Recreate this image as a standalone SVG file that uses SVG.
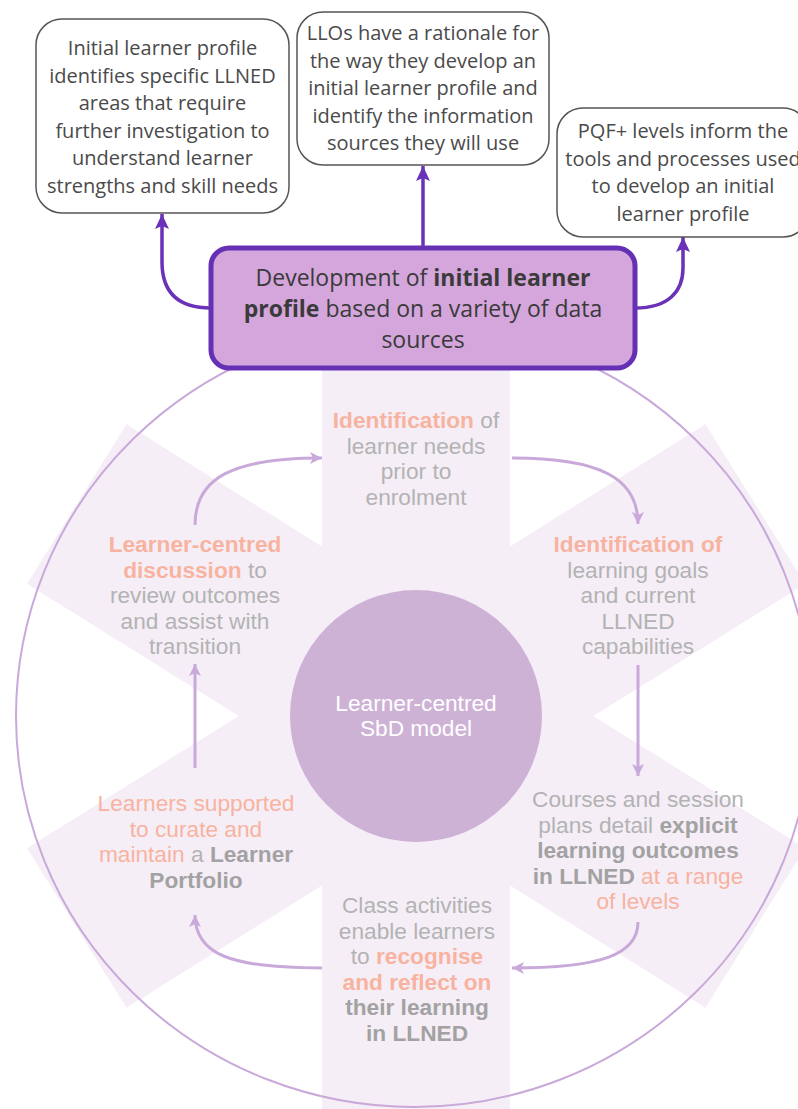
<svg xmlns="http://www.w3.org/2000/svg" width="798" height="1109" viewBox="0 0 798 1109">
  <defs>
    <style>
      .box { fill: #ffffff; stroke: #555555; stroke-width: 1.5; }
      .btxt { font-family: "Open Sans", "Liberation Sans", sans-serif; font-size: 20px; fill: #4a4a4a; text-anchor: middle; }
      .main { fill: #d4a6dc; stroke: #6630b5; stroke-width: 5; }
      .mtxt { font-family: "Open Sans", "Liberation Sans", sans-serif; font-size: 23px; fill: #3a3a3a; text-anchor: middle; }
      .b { font-weight: bold; }
      .link { fill: none; stroke: #6a32b8; stroke-width: 3.5; }
      .flow { fill: none; stroke: #c9a9da; stroke-width: 3; }
      .band { fill: #f5eef6; }
      .ctxt { font-family: "Liberation Sans", Arial, sans-serif; font-size: 22.7px; fill: #b3b3b3; text-anchor: middle; }
      .sal { fill: #f8b3a0; }
      .gb { fill: #a2a2a2; font-weight: bold; }
      .hub { font-family: "Liberation Sans", Arial, sans-serif; font-size: 22.7px; fill: #ffffff; text-anchor: middle; }
    </style>
    <marker id="headDark" markerUnits="userSpaceOnUse" markerWidth="18" markerHeight="18" refX="15" refY="9" orient="auto">
      <path d="M0,2 L15,9 L0,16 L3,9 z" fill="#6a32b8"/>
    </marker>
    <marker id="headLight" markerUnits="userSpaceOnUse" markerWidth="14" markerHeight="14" refX="12" refY="7" orient="auto">
      <path d="M0,1 L12,7 L0,13 L3,7 z" fill="#c9a9da"/>
    </marker>
  </defs>

  <!-- background asterisk bands -->
  <g id="bands">
    <rect class="band" x="322" y="316" width="188" height="800"/>
    <rect class="band" x="-400" y="-94" width="800" height="188" transform="translate(416,716) rotate(32)"/>
    <rect class="band" x="-400" y="-94" width="800" height="188" transform="translate(416,716) rotate(-32)"/>
  </g>

  <!-- outer ring -->
  <ellipse id="ring" cx="414" cy="716" rx="398" ry="391" fill="none" stroke="#c9a9da" stroke-width="2"/>

  <!-- hub -->
  <g id="hub">
    <circle cx="416" cy="716" r="126" fill="#ceb2d6"/>
    <text class="hub" x="416" y="711">Learner-centred</text>
    <text class="hub" x="416" y="736">SbD model</text>
  </g>

  <!-- cycle stages -->
  <g id="stage-enrolment">
    <text class="ctxt" x="416" y="428"><tspan class="sal b">Identification</tspan> of</text>
    <text class="ctxt" x="416" y="453.5">learner needs</text>
    <text class="ctxt" x="416" y="479">prior to</text>
    <text class="ctxt" x="416" y="504.5">enrolment</text>
  </g>
  <g id="stage-goals">
    <text class="ctxt" x="638" y="552"><tspan class="sal b">Identification of</tspan></text>
    <text class="ctxt" x="638" y="577.5">learning goals</text>
    <text class="ctxt" x="638" y="603">and current</text>
    <text class="ctxt" x="638" y="628.5">LLNED</text>
    <text class="ctxt" x="638" y="654">capabilities</text>
  </g>
  <g id="stage-outcomes">
    <text class="ctxt" x="638" y="807">Courses and session</text>
    <text class="ctxt" x="638" y="832.5">plans detail <tspan class="gb">explicit</tspan></text>
    <text class="ctxt" x="638" y="858"><tspan class="gb">learning outcomes</tspan></text>
    <text class="ctxt" x="638" y="883.5"><tspan class="gb">in LLNED</tspan> <tspan class="sal">at a range</tspan></text>
    <text class="ctxt" x="638" y="909"><tspan class="sal">of levels</tspan></text>
  </g>
  <g id="stage-reflect">
    <text class="ctxt" x="417" y="913">Class activities</text>
    <text class="ctxt" x="417" y="938.5">enable learners</text>
    <text class="ctxt" x="417" y="964">to <tspan class="sal b">recognise</tspan></text>
    <text class="ctxt" x="417" y="989.5"><tspan class="sal b">and reflect on</tspan></text>
    <text class="ctxt" x="417" y="1015"><tspan class="gb">their learning</tspan></text>
    <text class="ctxt" x="417" y="1040.5"><tspan class="gb">in LLNED</tspan></text>
  </g>
  <g id="stage-portfolio">
    <text class="ctxt" x="196" y="811"><tspan class="sal">Learners supported</tspan></text>
    <text class="ctxt" x="196" y="836.5"><tspan class="sal">to curate and</tspan></text>
    <text class="ctxt" x="196" y="862"><tspan class="sal">maintain</tspan> a <tspan class="gb">Learner</tspan></text>
    <text class="ctxt" x="196" y="887.5"><tspan class="gb">Portfolio</tspan></text>
  </g>
  <g id="stage-discussion">
    <text class="ctxt" x="195" y="552"><tspan class="sal b">Learner-centred</tspan></text>
    <text class="ctxt" x="195" y="577.5"><tspan class="sal b">discussion</tspan> to</text>
    <text class="ctxt" x="195" y="603">review outcomes</text>
    <text class="ctxt" x="195" y="628.5">and assist with</text>
    <text class="ctxt" x="195" y="654">transition</text>
  </g>

  <!-- cycle arrows -->
  <g id="cycle-connectors">
    <path class="flow" d="M195,525 C195,478 232,458 322,458" marker-end="url(#headLight)"/>
    <path class="flow" d="M512,458 C600,458 638,478 638,524" marker-end="url(#headLight)"/>
    <path class="flow" d="M638,665 L638,776" marker-end="url(#headLight)"/>
    <path class="flow" d="M638,922 C638,955 600,968 512,968" marker-end="url(#headLight)"/>
    <path class="flow" d="M322,968 C232,968 195,955 195,915" marker-end="url(#headLight)"/>
    <path class="flow" d="M195,768 L195,664" marker-end="url(#headLight)"/>
  </g>

  <!-- links from the profile box to the notes -->
  <g id="profile-connectors">
    <path class="link" d="M211,308 C178,308 162,292 162,262 L162,214" marker-end="url(#headDark)"/>
    <path class="link" d="M423,248 L423,166" marker-end="url(#headDark)"/>
    <path class="link" d="M635,308 C668,308 683,292 683,268 L683,237" marker-end="url(#headDark)"/>
  </g>

  <!-- notes -->
  <g id="note-areas">
    <rect class="box" x="36" y="19" width="253" height="194" rx="26"/>
    <text class="btxt" x="162.5" y="55">Initial learner profile</text>
    <text class="btxt" x="162.5" y="82.5">identifies specific LLNED</text>
    <text class="btxt" x="162.5" y="110">areas that require</text>
    <text class="btxt" x="162.5" y="137.5">further investigation to</text>
    <text class="btxt" x="162.5" y="165">understand learner</text>
    <text class="btxt" x="162.5" y="192.5">strengths and skill needs</text>
  </g>
  <g id="note-rationale">
    <rect class="box" x="297" y="12" width="252" height="153" rx="26"/>
    <text class="btxt" x="423" y="40">LLOs have a rationale for</text>
    <text class="btxt" x="423" y="67.5">the way they develop an</text>
    <text class="btxt" x="423" y="95">initial learner profile and</text>
    <text class="btxt" x="423" y="122.5">identify the information</text>
    <text class="btxt" x="423" y="150">sources they will use</text>
  </g>
  <g id="note-pqf">
    <rect class="box" x="557" y="108" width="252" height="129" rx="26"/>
    <text class="btxt" x="683" y="138">PQF+ levels inform the</text>
    <text class="btxt" x="683" y="165.5">tools and processes used</text>
    <text class="btxt" x="683" y="193">to develop an initial</text>
    <text class="btxt" x="683" y="220.5">learner profile</text>
  </g>

  <!-- central profile box -->
  <g id="profile">
    <rect class="main" x="211" y="248" width="424" height="120" rx="18"/>
    <text class="mtxt" x="423" y="286">Development of <tspan class="b">initial learner</tspan></text>
    <text class="mtxt" x="423" y="317"><tspan class="b">profile</tspan> based on a variety of data</text>
    <text class="mtxt" x="423" y="348">sources</text>
  </g>
</svg>
